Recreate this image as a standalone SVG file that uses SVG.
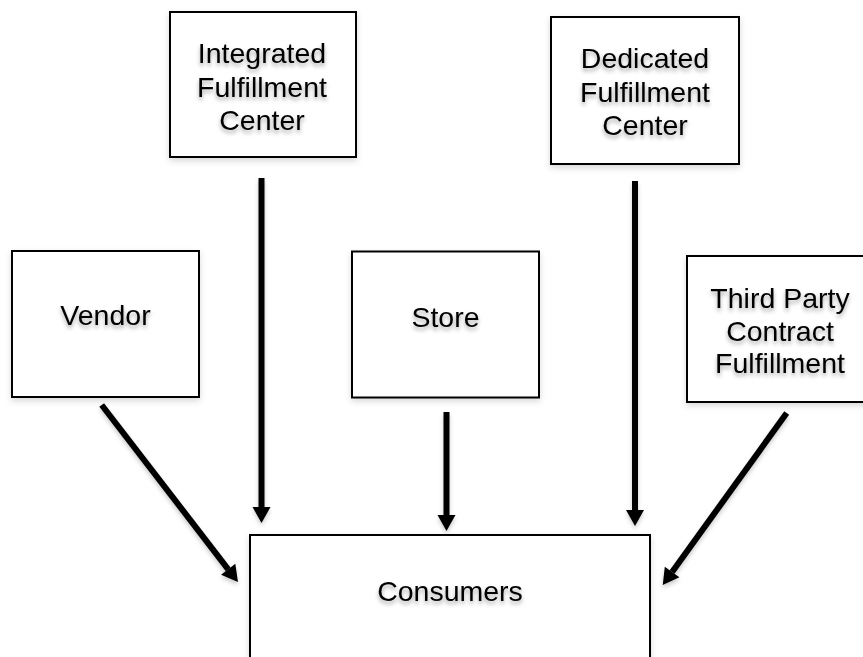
<svg xmlns="http://www.w3.org/2000/svg" width="863" height="657" viewBox="0 0 863 657">
  <style>
    .box { fill: #ffffff; stroke: #000000; stroke-width: 2; filter: url(#boxShadow); }
    .label { font-family: "Liberation Sans", Arial, sans-serif; font-size: 28.5px; fill: #000000; text-anchor: middle; filter: url(#textShadow); }
    .arrow { stroke: #000000; stroke-width: 6; fill: none; marker-end: url(#head); }
  </style>
  <defs>
    <filter id="textShadow" x="-20%" y="-30%" width="140%" height="170%">
      <feDropShadow dx="0" dy="3" stdDeviation="2" flood-color="#000000" flood-opacity="0.35"/>
    </filter>
    <filter id="boxShadow" x="-10%" y="-10%" width="120%" height="125%">
      <feDropShadow dx="0" dy="3" stdDeviation="3" flood-color="#000000" flood-opacity="0.15"/>
    </filter>
    <filter id="lineShadow" filterUnits="userSpaceOnUse" x="0" y="0" width="863" height="657">
      <feDropShadow dx="0" dy="3" stdDeviation="2" flood-color="#000000" flood-opacity="0.2"/>
    </filter>
    <marker id="head" markerUnits="userSpaceOnUse" markerWidth="18" markerHeight="18" refX="0" refY="9" orient="auto" overflow="visible">
      <path d="M0,0 L16,9 L0,18 Z" fill="#000000"/>
    </marker>
  </defs>

  <!-- connectors -->
  <g id="connectors" filter="url(#lineShadow)">
    <line class="arrow" x1="261.5" y1="178" x2="261.5" y2="507"/>
    <line class="arrow" x1="446.5" y1="412" x2="446.5" y2="515"/>
    <line class="arrow" x1="635" y1="181" x2="635" y2="510"/>
    <line class="arrow" x1="101.7" y1="405" x2="228.2" y2="569.3"/>
    <line class="arrow" x1="786.7" y1="413" x2="672.1" y2="572"/>
  </g>

  <g id="integrated">
    <rect class="box" x="170" y="12" width="186" height="145"/>
    <text class="label" x="262" y="63">Integrated</text>
    <text class="label" x="262" y="96.5">Fulfillment</text>
    <text class="label" x="262" y="130">Center</text>
  </g>

  <g id="dedicated">
    <rect class="box" x="551" y="17" width="188" height="147"/>
    <text class="label" x="645" y="68">Dedicated</text>
    <text class="label" x="645" y="101.5">Fulfillment</text>
    <text class="label" x="645" y="135">Center</text>
  </g>

  <g id="vendor">
    <rect class="box" x="12" y="251" width="187" height="146"/>
    <text class="label" x="105.5" y="325">Vendor</text>
  </g>

  <g id="store">
    <rect class="box" x="352" y="251.5" width="187" height="146"/>
    <text class="label" x="445.5" y="326.5">Store</text>
  </g>

  <g id="third-party">
    <rect class="box" x="687" y="256" width="186" height="146"/>
    <text class="label" x="780" y="308">Third Party</text>
    <text class="label" x="780" y="340.5">Contract</text>
    <text class="label" x="780" y="373">Fulfillment</text>
  </g>

  <g id="consumers">
    <rect class="box" x="250" y="535" width="400" height="140"/>
    <text class="label" x="450" y="600.5">Consumers</text>
  </g>
</svg>
